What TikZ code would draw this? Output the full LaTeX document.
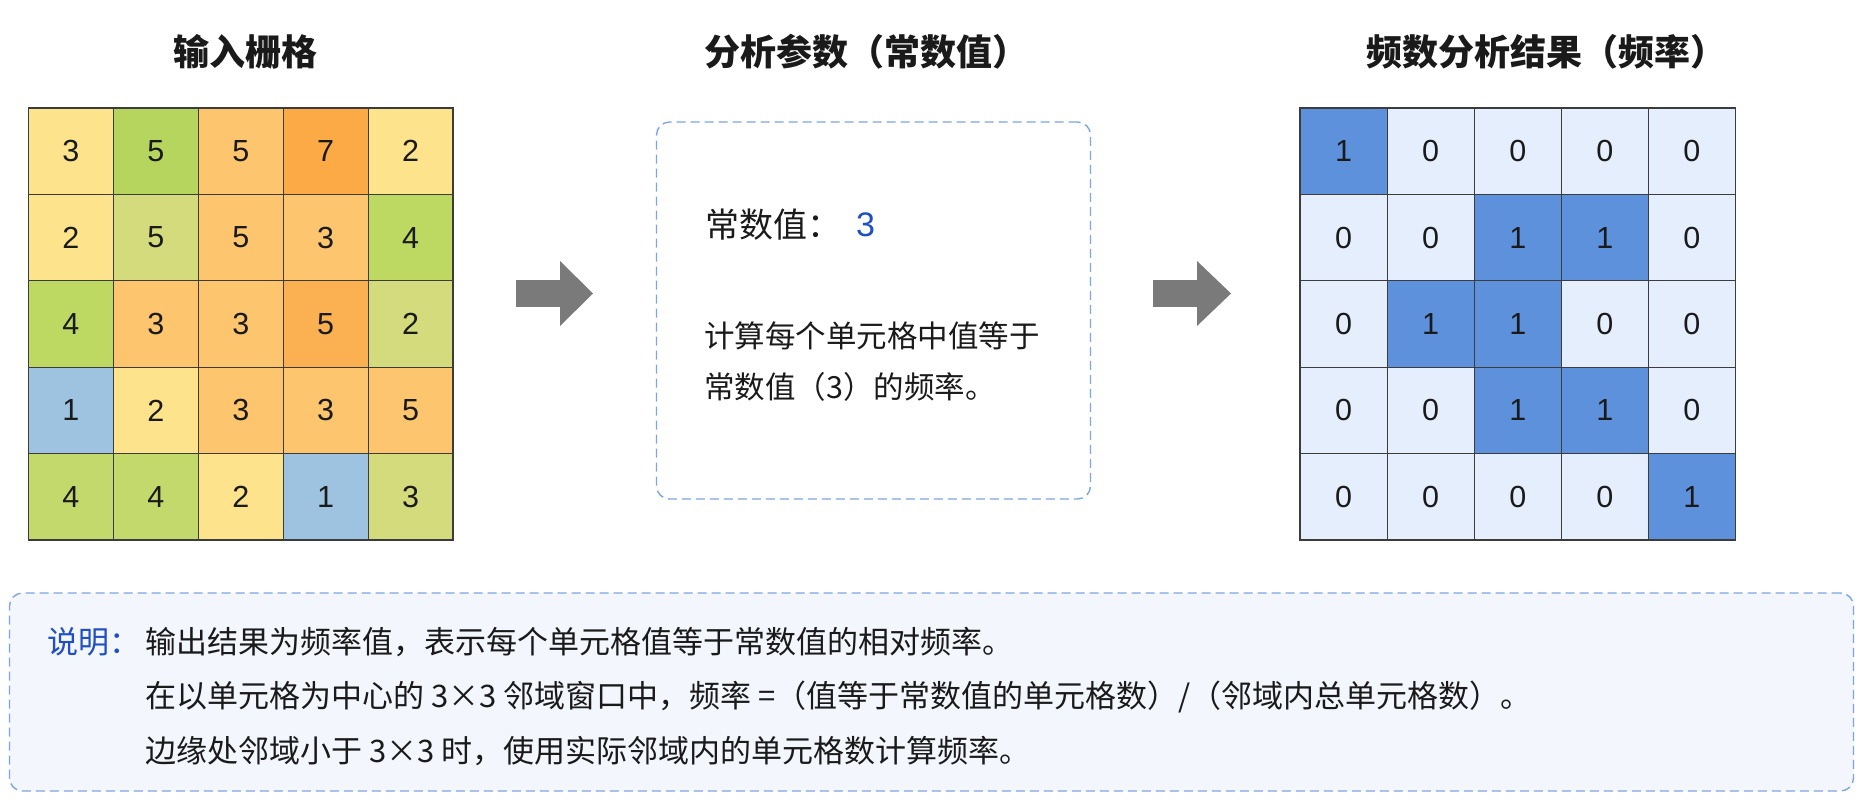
\documentclass[tikz,border=0pt]{standalone}
\usepackage{fontspec}
\setmainfont{Noto Sans CJK SC}
\newfontfamily\digitfont{Liberation Sans}
\definecolor{ly}{HTML}{FDE38B}
\definecolor{gA}{HTML}{B6D55E}
\definecolor{oL}{HTML}{FDC66E}
\definecolor{oD}{HTML}{FBAA46}
\definecolor{yg}{HTML}{D4DB7D}
\definecolor{gB}{HTML}{BDD962}
\definecolor{oM}{HTML}{FBB152}
\definecolor{bl}{HTML}{9DC3E1}
\definecolor{gC}{HTML}{C3D96C}
\definecolor{dk}{HTML}{5D91DC}
\definecolor{lt}{HTML}{E4EEFC}
\definecolor{dashblue}{HTML}{7FA5E2}
\definecolor{notebg}{HTML}{F3F6FC}
\definecolor{txtblue}{HTML}{1F4FC4}
\definecolor{arrowgray}{HTML}{7A7A7A}
\definecolor{ink}{HTML}{1A1A1A}
\begin{document}
\begin{tikzpicture}[x=1pt,y=-1pt,
  cell/.style={draw=ink!85, line width=1.1pt, minimum width=84.9pt, minimum height=86.4pt,
    inner sep=0pt, font=\digitfont\fontsize{30.5}{30}\selectfont, text=ink},
  rcell/.style={cell, minimum width=87.1pt},
  title/.style={font=\bfseries\fontsize{36}{40}\selectfont, text=ink, inner sep=0pt},
  body/.style={font=\fontsize{30.5}{36}\selectfont, text=ink, inner sep=0pt, anchor=west},
  notetext/.style={body, font=\fontsize{31}{36}\selectfont},
  dashbox/.style={draw=dashblue, line width=1.4pt, dash pattern=on 9pt off 5pt, rounded corners=13pt},
  blockarrow/.style={fill=arrowgray}
]
\useasboundingbox (0,0) rectangle (1860,804);
\fill[white] (0,0) rectangle (1860,804);

% titles
\node[title] (t1) at (245,52) {输入栅格};
\node[title] (t2) at (866,52) {分析参数（常数值）};
\node[title] (t3) at (1546,52) {频数分析结果（频率）};

% left grid
\foreach \row [count=\r] in {{ly/3,gA/5,oL/5,oD/7,ly/2},{ly/2,yg/5,oL/5,oL/3,gB/4},{gB/4,oL/3,oL/3,oM/5,yg/2},{bl/1,ly/2,oL/3,oL/3,oL/5},{gC/4,gC/4,ly/2,bl/1,yg/3}}{
  \foreach \col/\val [count=\c] in \row {
    \node[cell, fill=\col] (L-\r-\c) at ({28.5+(\c-0.5)*84.9},{108+(\r-0.5)*86.4}) {\val};
  }
}

% right grid
\foreach \row [count=\r] in {{1,0,0,0,0},{0,0,1,1,0},{0,1,1,0,0},{0,0,1,1,0},{0,0,0,0,1}}{
  \foreach \val [count=\c] in \row {
    \ifnum\val=1\def\fc{dk}\else\def\fc{lt}\fi
    \node[rcell, fill=\fc] (R-\r-\c) at ({1300+(\c-0.5)*87.1},{108+(\r-0.5)*86.4}) {\val};
  }
}

% middle box
\node[dashbox, fill=white, minimum width=434pt, minimum height=377pt, inner sep=0pt] (mid) at (873.5,310.5) {};
\node[body, font=\fontsize{34}{40}\selectfont] (k) at (705,225) {常数值：};
\node[inner sep=0pt, anchor=west, text=txtblue, font=\digitfont\fontsize{34}{34}\selectfont] (kv) at (856,225) {3};
\node[body] (d1) at (704,336) {计算每个单元格中值等于};
\node[body] (d2) at (704,387) {常数值（3）的频率。};

% arrows
\coordinate (a1) at (516,293.5);
\fill[blockarrow] (a1) ++(0,-13.3) -- ++(44,0) -- ++(0,-19.2) -- ++(33,32.5) -- ++(-33,32.5) -- ++(0,-19.2) -- ++(-44,0) -- cycle;
\coordinate (a2) at (1153,293.5);
\fill[blockarrow] (a2) ++(0,-13.3) -- ++(44,0) -- ++(0,-19.2) -- ++(34,32.5) -- ++(-34,32.5) -- ++(0,-19.2) -- ++(-44,0) -- cycle;

% note box
\node[dashbox, fill=notebg, minimum width=1844pt, minimum height=198pt, inner sep=0pt] (note) at (931.5,692) {};
\node[notetext, text=txtblue] (lab) at (47,642) {说明：};
\node[notetext] (n1) at (145,642) {输出结果为频率值，表示每个单元格值等于常数值的相对频率。};
\node[notetext] (n2) at (145,697) {在以单元格为中心的 3×3 邻域窗口中，频率 =（值等于常数值的单元格数）/（邻域内总单元格数）。};
\node[notetext] (n3) at (145,751) {边缘处邻域小于 3×3 时，使用实际邻域内的单元格数计算频率。};
\end{tikzpicture}
\end{document}
